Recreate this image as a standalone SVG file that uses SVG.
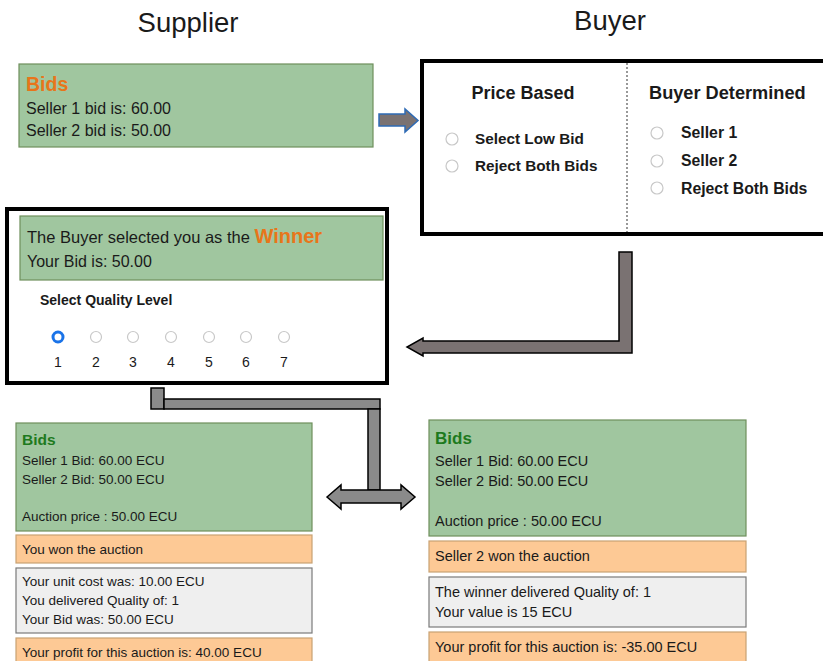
<svg xmlns="http://www.w3.org/2000/svg" width="823" height="661" viewBox="0 0 823 661">
<style>
text{font-family:"Liberation Sans",Arial,sans-serif;fill:#1a1a1a}
.title{font-size:27.5px}
.green{fill:#a0c69f;stroke:#6e8f5c;stroke-width:1.2}
.orange{fill:#fdc995;stroke:#c9a273;stroke-width:1.2}
.grey{fill:#efefef;stroke:#7a7a7a;stroke-width:1.2}
.frame{fill:#fff;stroke:#000;stroke-width:4}
.radio{fill:#fff;stroke:#c8c8c8;stroke-width:1.2}
.opt{font-size:15.3px;font-weight:bold}
.opt2{font-size:15.8px;font-weight:bold}
.t16{font-size:16px}
.t13{font-size:13.5px}
.t14{font-size:14.5px}
.conn{fill:#7a7272;stroke:#000;stroke-width:1.5}
.conn2{fill:#8a8a8a;stroke:#000;stroke-width:1.5}
</style>
<rect width="823" height="661" fill="#fff"/>
<g id="titles">
<text class="title" x="188" y="32" text-anchor="middle">Supplier</text>
<text class="title" x="610" y="30" text-anchor="middle">Buyer</text>
</g>
<g id="supplier-bids">
<rect class="green" x="19" y="64" width="354" height="83"/>
<text x="26" y="91" font-size="19.5" font-weight="bold" style="fill:#e8751a">Bids</text>
<text class="t16" x="26" y="114">Seller 1 bid is: 60.00</text>
<text class="t16" x="26" y="136">Seller 2 bid is: 50.00</text>
</g>
<g id="buyer-choice">
<rect class="frame" x="422" y="61" width="404" height="173"/>
<line x1="627" y1="63" x2="627" y2="232" stroke="#555" stroke-width="1.2" stroke-dasharray="2,2"/>
<text x="523" y="99" font-size="18" font-weight="bold" text-anchor="middle">Price Based</text>
<text x="649" y="99" font-size="18.2" font-weight="bold">Buyer Determined</text>
<circle class="radio" cx="452" cy="139" r="6"/>
<circle class="radio" cx="452" cy="166" r="6"/>
<text class="opt" x="475" y="144">Select Low Bid</text>
<text class="opt" x="475" y="171">Reject Both Bids</text>
<circle class="radio" cx="657" cy="133" r="6"/>
<circle class="radio" cx="657" cy="161" r="6"/>
<circle class="radio" cx="657" cy="188" r="6"/>
<text class="opt2" x="681" y="138">Seller 1</text>
<text class="opt2" x="681" y="166">Seller 2</text>
<text class="opt2" x="681" y="194">Reject Both Bids</text>
</g>
<g id="winner">
<rect class="frame" x="7" y="209" width="380" height="174"/>
<rect class="green" x="20" y="216" width="363" height="64" stroke="none"/>
<text x="27" y="243" font-size="16.5">The Buyer selected you as the <tspan font-size="20" font-weight="bold" style="fill:#e8751a">Winner</tspan></text>
<text x="27" y="267" font-size="16">Your Bid is:  50.00</text>
<text x="40" y="305" font-size="14" font-weight="bold">Select Quality Level</text>
<circle cx="58" cy="337" r="5" fill="#fff" stroke="#1a73e8" stroke-width="3"/>
<circle class="radio" cx="96" cy="337" r="5.5"/>
<circle class="radio" cx="133" cy="337" r="5.5"/>
<circle class="radio" cx="171" cy="337" r="5.5"/>
<circle class="radio" cx="209" cy="337" r="5.5"/>
<circle class="radio" cx="246" cy="337" r="5.5"/>
<circle class="radio" cx="284" cy="337" r="5.5"/>
<g font-size="14" text-anchor="middle">
<text x="58" y="367">1</text><text x="96" y="367">2</text><text x="133" y="367">3</text><text x="171" y="367">4</text><text x="209" y="367">5</text><text x="246" y="367">6</text><text x="284" y="367">7</text>
</g>
</g>
<g id="supplier-result">
<rect class="green" x="16" y="423" width="296" height="108"/>
<text x="22" y="445" font-size="15.5" font-weight="bold" style="fill:#1e7a1e">Bids</text>
<text class="t13" x="22" y="465">Seller 1 Bid: 60.00 ECU</text>
<text class="t13" x="22" y="484">Seller 2 Bid: 50.00 ECU</text>
<text class="t13" x="22" y="521">Auction price : 50.00 ECU</text>
<rect class="orange" x="16" y="535" width="296" height="28"/>
<text class="t13" x="22" y="554">You won the auction</text>
<rect class="grey" x="16" y="568" width="296" height="65"/>
<text class="t13" x="22" y="586">Your unit cost was: 10.00 ECU</text>
<text class="t13" x="22" y="605">You delivered Quality of: 1</text>
<text class="t13" x="22" y="624">Your Bid was: 50.00 ECU</text>
<rect class="orange" x="16" y="638" width="296" height="30"/>
<text class="t13" x="22" y="657">Your profit for this auction is: 40.00 ECU</text>
</g>
<g id="buyer-result">
<rect class="green" x="429" y="420" width="317" height="116"/>
<text x="435" y="444" font-size="17" font-weight="bold" style="fill:#1e7a1e">Bids</text>
<text class="t14" x="435" y="466">Seller 1 Bid: 60.00 ECU</text>
<text class="t14" x="435" y="486">Seller 2 Bid: 50.00 ECU</text>
<text class="t14" x="435" y="526">Auction price : 50.00 ECU</text>
<rect class="orange" x="429" y="541" width="317" height="31"/>
<text class="t14" x="435" y="561">Seller 2 won the auction</text>
<rect class="grey" x="429" y="577" width="317" height="50"/>
<text class="t14" x="435" y="597">The winner delivered Quality of: 1</text>
<text class="t14" x="435" y="617">Your value is 15 ECU</text>
<rect class="orange" x="429" y="632" width="317" height="34"/>
<text class="t14" x="435" y="652">Your profit for this auction is: -35.00 ECU</text>
</g>
<g id="connectors">
<path d="M379,114 H405 V109 L418,120.5 L405,132 V126 H379 Z" fill="#7a7272" stroke="#2e6bb5" stroke-width="1.5"/>
<path class="conn" d="M619,252 H632 V353 H423 V356 L407,347 L423,338 V341 H619 Z"/>
<rect class="conn2" x="151" y="388" width="13" height="21"/>
<rect class="conn2" x="164" y="399" width="216" height="10"/>
<rect class="conn2" x="368" y="409" width="12" height="81"/>
<path class="conn2" d="M327,497 L341,485 V490 H401 V485 L415,497 L401,509 V503 H341 V509 Z"/>
</g>
</svg>
